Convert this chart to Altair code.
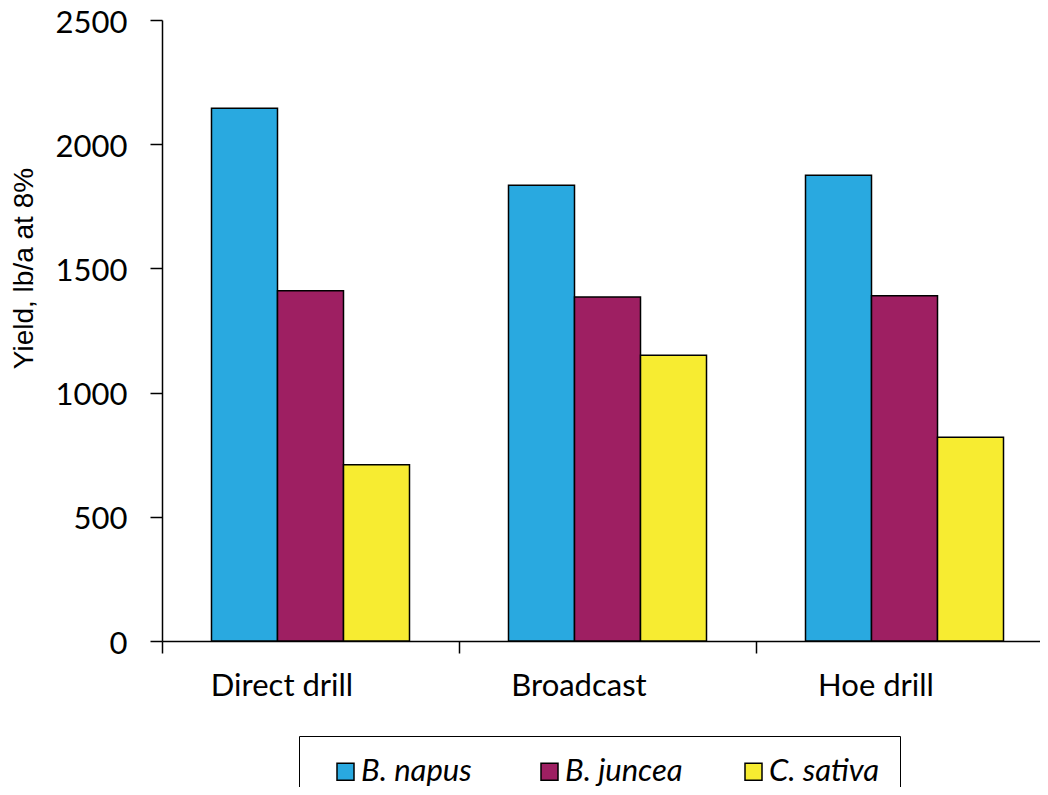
import altair as alt
import pandas as pd

methods = ["Direct drill", "Broadcast", "Hoe drill"]
species = ["B. napus", "B. juncea", "C. sativa"]
napus = [2145, 1835, 1875]
juncea = [1410, 1385, 1390]
sativa = [710, 1150, 820]
colors = ["#29A9E0", "#9E1F62", "#F7EC31"]
y_ticks = [0, 500, 1000, 1500, 2000, 2500]

rows = []
for i, m in enumerate(methods):
    for s, vals in zip(species, [napus, juncea, sativa]):
        rows.append({"method": m, "species": s, "yield": vals[i]})
df = pd.DataFrame(rows)

chart = (
    alt.Chart(df)
    .mark_bar(stroke="black", strokeWidth=1.5)
    .encode(
        x=alt.X(
            "method:N",
            sort=methods,
            scale=alt.Scale(paddingInner=1 / 3, paddingOuter=0.14476, align=0.5756),
            axis=alt.Axis(
                title=None,
                labelAngle=0,
                tickOffset=-148.5,
                tickSize=12,
                tickWidth=1.5,
                tickColor="black",
                domainColor="black",
                domainWidth=1.5,
                labelFont="Lato",
                labelFontSize=31,
                labelColor="black",
                labelBaseline="alphabetic",
                labelPadding=42,
                labelOffset=119.5,
            ),
        ),
        xOffset=alt.XOffset("species:N", sort=species),
        y=alt.Y(
            "yield:Q",
            scale=alt.Scale(domain=[0, 2500], nice=False),
            axis=alt.Axis(
                values=y_ticks,
                format="d",
                title="Yield, lb/a at 8%",
                titleFont="Liberation Sans",
                titleFontSize=28,
                titleFontWeight="normal",
                titleColor="black",
                titleAngle=270,
                titleAlign="center",
                titleBaseline="alphabetic",
                titleX=-130,
                titleY=248,
                tickSize=12,
                tickWidth=1.5,
                tickColor="black",
                domainColor="black",
                domainWidth=1.5,
                grid=False,
                labelFont="Lato",
                labelFontSize=31,
                labelColor="black",
                labelPadding=23,
                labelOffset=3,
            ),
        ),
        color=alt.Color(
            "species:N",
            sort=species,
            scale=alt.Scale(domain=species, range=colors),
            legend=alt.Legend(
                title=" ",
                titleOrient="left",
                titlePadding=11,
                titleFontSize=31,
                titleFont="Lato",
                orient="none",
                legendX=137,
                legendY=716,
                direction="horizontal",
                columns=3,
                gridAlign="all",
                columnPadding=55,
                padding=20,
                strokeColor="black",
                symbolType="square",
                symbolSize=289,
                symbolStrokeColor="black",
                symbolStrokeWidth=1.5,
                symbolOpacity=1,
                labelFont="Lato",
                labelFontSize=31,
                labelFontStyle="italic",
                labelColor="black",
                labelOffset=0,
                labelLimit=400,
            ),
        ),
    )
    .properties(
        width=878,
        height=621,
        autosize=alt.AutoSizeParams(type="none"),
        padding={"left": 154, "top": 12, "right": 0, "bottom": 146},
    )
    .configure_view(stroke=None)
)

chart.save("out.html", embed_options={"renderer": "svg", "actions": False})
